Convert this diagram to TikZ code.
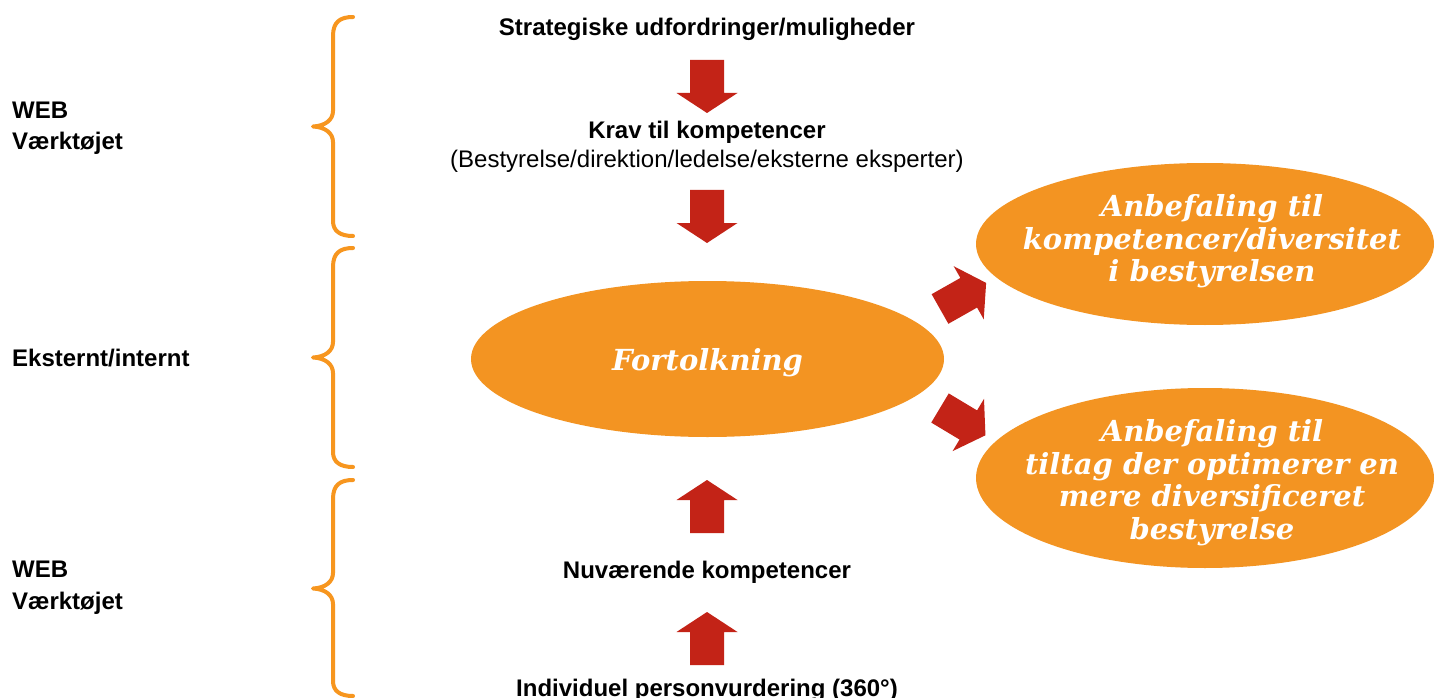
\documentclass[tikz,border=0pt]{standalone}
\usepackage{fontspec}
\setmainfont{Liberation Sans}
\newfontfamily\ellfont{DejaVu Serif}
\usetikzlibrary{shapes.geometric}
\definecolor{arrowred}{HTML}{C32317}
\definecolor{bubble}{HTML}{F39422}
\definecolor{bracecol}{HTML}{F7961F}
\tikzset{
  lbl/.style={font=\fontsize{24}{31}\selectfont\bfseries, inner sep=0pt, align=center},
  sublbl/.style={font=\fontsize{24}{31}\selectfont, inner sep=0pt, align=center},
  side/.style={font=\fontsize{24}{31.5}\selectfont\bfseries, inner sep=0pt, align=left, anchor=west},
  bubble/.style={ellipse, fill=bubble, inner sep=0pt},
  bubbletext/.style={inner sep=0pt, text=white, align=center,
    font=\fontsize{29}{32.5}\selectfont\ellfont\bfseries\itshape},
  bracepath/.style={draw=bracecol, line width=4pt, line cap=round, line join=round},
  pics/blockarrow/.style={code={
    \fill[arrowred] (-17,0) -- (17,0) -- (17,#1) -- (30.5,#1) -- (0,{#1+20})
      -- (-30.5,#1) -- (-17,#1) -- cycle;}}
}
\begin{document}
\begin{tikzpicture}[x=1pt,y=-1pt]
\useasboundingbox (0,0) rectangle (1441,698);
\fill[white] (0,0) rectangle (1441,698);

% curly braces on the left
\draw[bracepath] (353,17) .. controls (340,17) and (333,22) .. (333,36) -- (333,111)
  .. controls (333,120) and (325,126) .. (313,126.5)
  .. controls (325,127) and (333,133) .. (333,142) -- (333,221)
  .. controls (333,231) and (340,236) .. (353,236);
\draw[bracepath] (353,248) .. controls (340,248) and (333,253) .. (333,267) -- (333,342)
  .. controls (333,351) and (325,357) .. (313,357.5)
  .. controls (325,358) and (333,364) .. (333,373) -- (333,452)
  .. controls (333,462) and (340,467) .. (353,467);
\draw[bracepath] (353,480) .. controls (340,480) and (333,485) .. (333,499) -- (333,573)
  .. controls (333,582) and (325,588) .. (313,588.5)
  .. controls (325,589) and (333,595) .. (333,604) -- (333,681)
  .. controls (333,691) and (340,696) .. (353,696);

% side labels
\node[side] (web1) at (12,128) {WEB\\Værktøjet};
\node[side] (ext) at (12,358.5) {Eksternt/internt};
\node[side] (web2) at (12,587.5) {WEB\\Værktøjet};

% central column
\node[lbl] (strat) at (707,29) {Strategiske udfordringer/muligheder};
\node[lbl] (krav) at (707,132) {Krav til kompetencer};
\node[sublbl] (kravsub) at (707,161) {(Bestyrelse/direktion/ledelse/eksterne eksperter)};
\node[lbl] (nuv) at (707,572) {Nuværende kompetencer};
\node[lbl] (indiv) at (707,690) {Individuel personvurdering (360°)};

\pic at (707,60) {blockarrow=33};
\pic at (707,190) {blockarrow=33};
\pic[rotate=180] at (707,533) {blockarrow=33};
\pic[rotate=180] at (707,665) {blockarrow=33};

% bubbles
\node[bubble, minimum width=473pt, minimum height=156pt] (fort) at (707.5,359) {};
\node[bubbletext] (forttxt) at (fort.center) [yshift=-4pt] {Fortolkning};
\node[bubble, minimum width=458pt, minimum height=162pt] (anb1) at (1205,244) {};
\node[bubbletext] (anb1txt) at (1212,241.5) {Anbefaling til\\kompetencer/diversitet\\i bestyrelsen};
\node[bubble, minimum width=458pt, minimum height=180pt] (anb2) at (1205,478) {};
\node[bubbletext] (anb2txt) at (1212,482.5) {Anbefaling til\\tiltag der optimerer en\\mere diversificeret\\bestyrelse};

% arrows from the central bubble to the recommendations
\begin{scope}
  \clip (900,250) rectangle (988,470);
  \pic[rotate=119.5] at (940,309) {blockarrow=33};
  \pic[rotate=59] at (940,408) {blockarrow=33};
\end{scope}
\end{tikzpicture}
\end{document}
